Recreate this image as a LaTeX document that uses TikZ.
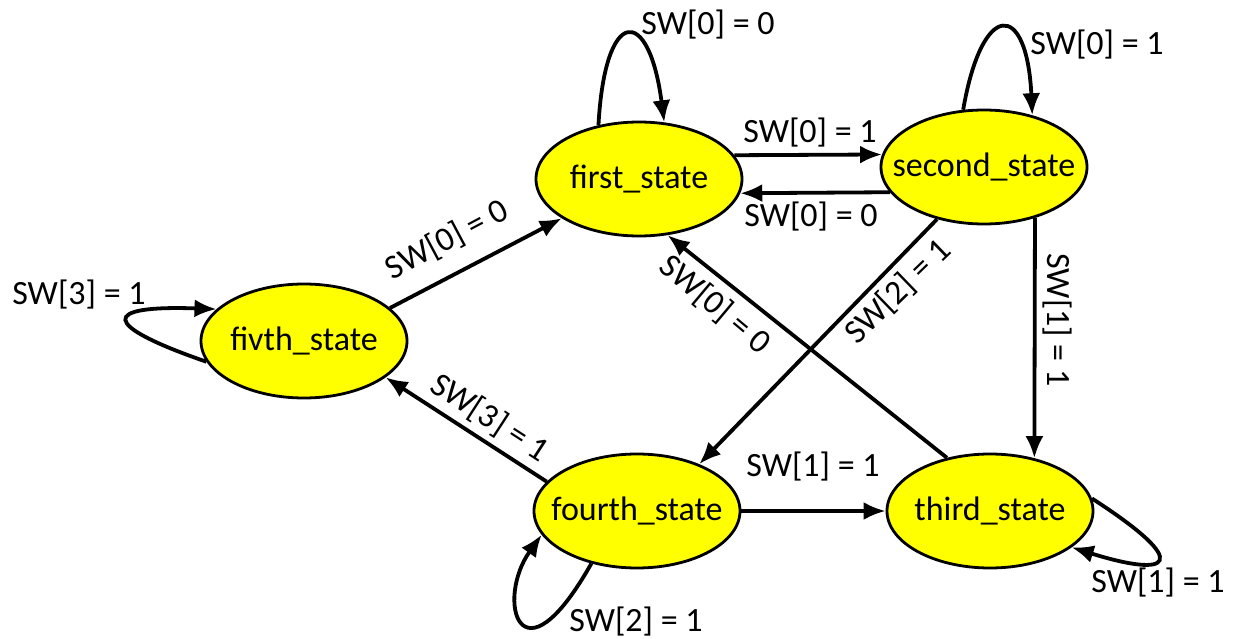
\documentclass[tikz,border=0pt]{standalone}
\usepackage{fontspec}
\setmainfont{Carlito}
\usetikzlibrary{shapes.geometric,arrows.meta}
\definecolor{stateyellow}{RGB}{255,255,0}
\tikzset{
  statenode/.style={ellipse, draw=black, line width=2.8pt, fill=stateyellow,
    minimum width=206pt, minimum height=114pt, inner sep=0pt,
    font=\fontsize{34}{40}\selectfont},
  edgelabel/.style={inner sep=0pt, font=\fontsize{34}{40}\selectfont},
  trans/.style={line width=3.8pt, -{Latex[length=22pt,width=18pt]}}
}
\newcommand{\statename}[1]{\makebox[0pt]{#1}}
\begin{document}
\begin{tikzpicture}[x=1pt,y=-1pt]
\useasboundingbox (0,0) rectangle (1245,639);

% states
\node[statenode] (first)  at (639,179) {\statename{first\_state}};
\node[statenode] (second) at (984,167) {\statename{second\_state}};
\node[statenode] (fivth)  at (304,341) {\statename{fivth\_state}};
\node[statenode] (fourth) at (637,511) {\statename{fourth\_state}};
\node[statenode] (third)  at (990,511) {\statename{third\_state}};

% self loops
\draw[trans] (first.127) .. controls (605,5) and (649,5) .. (first.66);
\draw[trans] (second.110) .. controls (982,0) and (1027,0) .. (second.47);
\draw[trans] (fivth.192.5) .. controls (100,325) and (100,305) .. (fivth.160.4);
\draw[trans] (fourth.229) .. controls (520,690) and (495,600) .. (fourth.194);
\draw[trans] (third.7.4) .. controls (1195,565) and (1170,578) .. (third.-24.8);

% transitions between states
\draw[trans] (first.14.4) -- (second.173.2);
\draw[trans] (second.195.8) -- (first.-8);
\draw[trans] (fivth.21.4) -- (first.207.5);
\draw[trans] (fourth.162.7) -- (fivth.-24);
\draw[trans] (fourth.east) -- (third.west);
\draw[trans] (second.-45.6) -- (third.50.3);
\draw[trans] (second.228.4) -- (fourth.37.3);
\draw[trans] (third.129) -- (first.297.4);

% labels
\node[edgelabel] (lfirstloop)  at (708,25)  {SW[0] = 0};
\node[edgelabel] (lsecondloop) at (1097,45) {SW[0] = 1};
\node[edgelabel] (lfs)  at (810,133) {SW[0] = 1};
\node[edgelabel] (lsf)  at (811,217) {SW[0] = 0};
\node[edgelabel, rotate=28]  (lvf)  at (447,240) {SW[0] = 0};
\node[edgelabel, rotate=-33] (lov)  at (490,418) {SW[3] = 1};
\node[edgelabel] (lot)  at (813,467) {SW[1] = 1};
\node[edgelabel] (lfourthloop) at (636,622) {SW[2] = 1};
\node[edgelabel, rotate=-90] (lst) at (1057,320) {SW[1] = 1};
\node[edgelabel, rotate=44]  (lso) at (898,292) {SW[2] = 1};
\node[edgelabel, rotate=-40] (ltf) at (715,305) {SW[0] = 0};
\node[edgelabel] (lfivthloop) at (79,295) {SW[3] = 1};
\node[edgelabel] (lthirdloop) at (1158,583) {SW[1] = 1};
\end{tikzpicture}
\end{document}
